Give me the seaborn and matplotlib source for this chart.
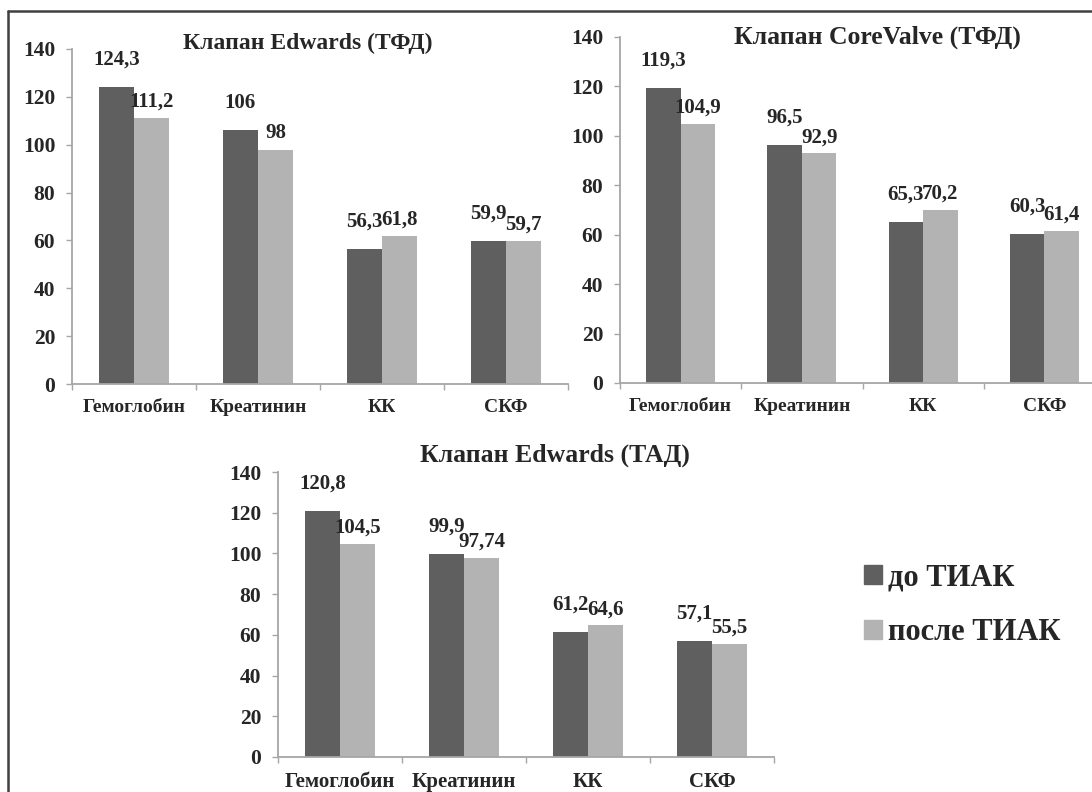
import matplotlib
matplotlib.use("Agg")
import matplotlib.pyplot as plt
from matplotlib.lines import Line2D
from matplotlib.ticker import FixedLocator
import seaborn as sns
import pandas as pd

# --- data -------------------------------------------------------------
categories = ["Гемоглобин", "Креатинин", "КК", "СКФ"]
periods = ["до ТИАК", "после ТИАК"]

edwards_tf_before = [124.3, 106, 56.3, 59.9]
edwards_tf_after = [111.2, 98, 61.8, 59.7]

corevalve_tf_before = [119.3, 96.5, 65.3, 60.3]
corevalve_tf_after = [104.9, 92.9, 70.2, 61.4]

edwards_ta_before = [120.8, 99.9, 61.2, 57.1]
edwards_ta_after = [104.5, 97.74, 64.6, 55.5]

titles = ["Клапан Edwards (ТФД)", "Клапан CoreValve (ТФД)", "Клапан Edwards (ТАД)"]
y_ticks = [0, 20, 40, 60, 80, 100, 120, 140]

# --- style ------------------------------------------------------------
sns.set_style("white")
plt.rcParams["font.family"] = ["Liberation Serif", "DejaVu Serif"]
plt.rcParams["font.weight"] = "bold"

DARK = "#5f5f5f"
LIGHT = "#b3b3b3"
AXIS = "#a6a6a6"

W, H = 1092, 792
fig = plt.figure(figsize=(W / 100, H / 100), dpi=100)


def rect(left, right, top, bottom):
    return [left / W, 1 - bottom / H, (right - left) / W, (bottom - top) / H]


def fmt(v):
    return f"{v:g}".replace(".", ",")


def panel(ax, before, after, cat_size):
    df = pd.DataFrame({
        "Показатель": categories * 2,
        "Значение": list(before) + list(after),
        "Период": [periods[0]] * len(categories) + [periods[1]] * len(categories),
    })
    sns.barplot(data=df, x="Показатель", y="Значение", hue="Период",
                order=categories, hue_order=periods,
                palette=[DARK, LIGHT], saturation=1, width=0.57,
                linewidth=0, legend=False, ax=ax)
    ax.set_xlim(-0.5, len(categories) - 0.5)
    ax.set_ylim(0, 140)
    ax.set_yticks(y_ticks)
    ax.set_xlabel("")
    ax.set_ylabel("")
    for side in ("top", "right"):
        ax.spines[side].set_visible(False)
    for side in ("left", "bottom"):
        ax.spines[side].set_color(AXIS)
        ax.spines[side].set_linewidth(1.3)
    ax.tick_params(axis="y", which="major", direction="out", length=4.5,
                   width=1.0, color=AXIS, pad=7.5, labelsize=15.5, left=True)
    ax.tick_params(axis="x", which="major", length=0, pad=11, labelsize=cat_size)
    ax.xaxis.set_minor_locator(FixedLocator([i - 0.5 for i in range(len(categories) + 1)]))
    ax.tick_params(axis="x", which="minor", direction="out", length=4.5,
                   width=1.0, color=AXIS, bottom=True)
    for lab in ax.get_xticklabels() + ax.get_yticklabels():
        lab.set_fontweight("bold")
    pads = [12.5, 4.5]
    for cont, pad in zip(ax.containers, pads):
        ax.bar_label(cont, labels=[fmt(b.get_height()) for b in cont],
                     padding=pad, fontsize=15, fontweight="bold")


ax1 = fig.add_axes(rect(72, 568, 49, 384))
panel(ax1, edwards_tf_before, edwards_tf_after, 14)

ax2 = fig.add_axes(rect(620, 1105, 37, 383))
panel(ax2, corevalve_tf_before, corevalve_tf_after, 14)

ax3 = fig.add_axes(rect(278, 774, 472, 757))
panel(ax3, edwards_ta_before, edwards_ta_after, 15)

# panel titles
fig.text(308 / W, 1 - 43 / H, titles[0], ha="center", va="center",
         fontsize=17, fontweight="bold")
fig.text(877 / W, 1 - 37 / H, titles[1], ha="center", va="center",
         fontsize=18.5, fontweight="bold")
fig.text(555 / W, 1 - 455 / H, titles[2], ha="center", va="center",
         fontsize=18.5, fontweight="bold")

# shared legend
handles = [plt.Rectangle((0, 0), 1, 1, color=c) for c in (DARK, LIGHT)]
fig.legend(handles, periods, loc="center left",
           bbox_to_anchor=(864 / W, 1 - 605 / H), frameon=False,
           prop={"size": 22, "weight": "bold"},
           handlelength=0.6, handleheight=0.6, handletextpad=0.2,
           labelspacing=0.85, borderaxespad=0, borderpad=0)

# outer frame
fig.add_artist(Line2D([8 / W, 8 / W], [0, 1 - 11 / H], transform=fig.transFigure,
                      color="#404040", linewidth=1.8))
fig.add_artist(Line2D([8 / W, 1], [1 - 11 / H, 1 - 11 / H], transform=fig.transFigure,
                      color="#404040", linewidth=1.8))

fig.savefig("out.png", dpi=100)
